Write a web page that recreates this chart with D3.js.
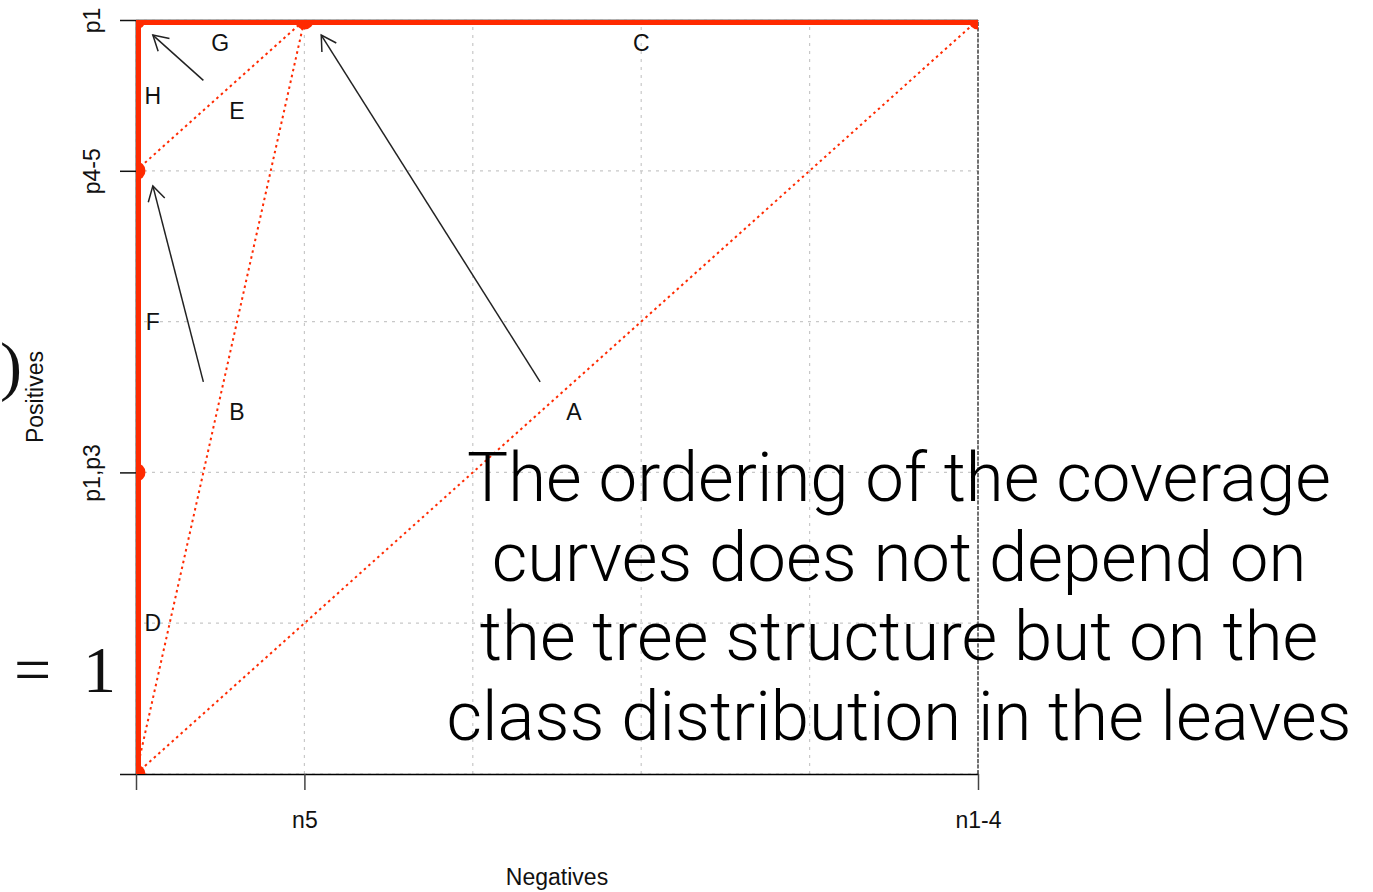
<!DOCTYPE html>
<html>
<head>
<meta charset="utf-8">
<script src="https://cdn.jsdelivr.net/npm/d3@7/dist/d3.min.js"></script>
<style>
  body { margin: 0; background: #fff; }
  text { font-family: "Liberation Sans", Arial, Helvetica, sans-serif; }
  text.serif { font-family: "Liberation Serif", "DejaVu Serif", "Times New Roman", serif; }
  text.slide { font-family: Roboto, "Open Sans", sans-serif; font-weight: 300; }
</style>
</head>
<body>
<svg id="chart" width="1373" height="892"></svg>
<script>
// axis ticks (data units) and their labels
var negTicks = [0, 1, 5];
var negLabels = ["", "n5", "n1-4"];
var posTicks = [0, 2, 4, 5];
var posLabels = ["", "p1,p3", "p4-5", "p1"];
var gridTicks = [0, 1, 2, 3, 4, 5];

// coverage curve (thick red) and its points
var curve = [[0, 0], [0, 5], [5, 5]];
var curvePoints = [[0, 0], [0, 2], [0, 4], [0, 5], [1, 5], [5, 5]];

// dotted red segments
var dotted = [
  [[0, 0], [5, 5]],
  [[0, 0], [1, 5]],
  [[0, 4], [1, 5]]
];

// leaf letters
var letters = [
  { t: "G", x: 0.5, y: 4.85 },
  { t: "C", x: 3.0, y: 4.85 },
  { t: "H", x: 0.1, y: 4.5 },
  { t: "E", x: 0.6, y: 4.4 },
  { t: "F", x: 0.1, y: 3.0 },
  { t: "B", x: 0.6, y: 2.4 },
  { t: "A", x: 2.6, y: 2.4 },
  { t: "D", x: 0.1, y: 1.0 }
];

// arrows: from -> to
var arrows = [
  { from: [0.4, 4.6], to: [0.1, 4.9] },
  { from: [0.4, 2.6], to: [0.1, 3.9] },
  { from: [2.4, 2.6], to: [1.1, 4.9] }
];

var slideLines = [
  "The ordering of the coverage",
  "curves does not depend on",
  "the tree structure but on the",
  "class distribution in the leaves"
];

var red = "#ff2a00";
var svg = d3.select("#chart");
svg.append("rect").attr("width", 1373).attr("height", 892).attr("fill", "#fff");

var x = d3.scaleLinear().domain([0, 5]).range([136, 978]);
var y = d3.scaleLinear().domain([0, 5]).range([774, 20]);

// clip to plot region
svg.append("defs").append("clipPath").attr("id", "plotClip")
  .append("rect")
  .attr("x", x(0)).attr("y", y(5))
  .attr("width", x(5) - x(0)).attr("height", y(0) - y(5));

// grid
var grid = svg.append("g");
grid.selectAll(".gx").data(gridTicks).join("line")
  .attr("x1", d => x(d)).attr("x2", d => x(d))
  .attr("y1", y(0)).attr("y2", y(5))
  .attr("stroke", "#c8c8c8").attr("stroke-width", 1.2)
  .attr("stroke-dasharray", "3,5");
grid.selectAll(".gy").data(gridTicks).join("line")
  .attr("y1", d => y(d)).attr("y2", d => y(d))
  .attr("x1", x(0)).attr("x2", x(5))
  .attr("stroke", "#c8c8c8").attr("stroke-width", 1.2)
  .attr("stroke-dasharray", "3,5");

// frame: top & left grey, right dashed dark
svg.append("line")
  .attr("x1", x(0)).attr("x2", x(5)).attr("y1", y(5)).attr("y2", y(5))
  .attr("stroke", "#999").attr("stroke-width", 1.5);
svg.append("line")
  .attr("x1", x(0)).attr("x2", x(0)).attr("y1", y(0)).attr("y2", y(5))
  .attr("stroke", "#888").attr("stroke-width", 1.5);
svg.append("line")
  .attr("x1", x(5)).attr("x2", x(5)).attr("y1", y(0)).attr("y2", y(5))
  .attr("stroke", "#444").attr("stroke-width", 1.5)
  .attr("stroke-dasharray", "4,1.5");

// axes
var xAxis = svg.append("g")
  .attr("transform", `translate(0,${y(0)})`)
  .call(d3.axisBottom(x).tickValues(negTicks).tickSize(16).tickSizeOuter(0)
    .tickFormat((d, i) => negLabels[i]));
xAxis.select(".domain").attr("stroke", "#000").attr("stroke-width", 1.5);
xAxis.selectAll(".tick line").attr("stroke", "#444").attr("stroke-width", 1.5);
xAxis.selectAll(".tick text")
  .attr("font-size", 23).attr("fill", "#111")
  .attr("dy", null).attr("y", 54);

var yAxis = svg.append("g")
  .attr("transform", `translate(${x(0)},0)`)
  .call(d3.axisLeft(y).tickValues(posTicks).tickSize(16).tickSizeOuter(0)
    .tickFormat((d, i) => posLabels[i]));
yAxis.select(".domain").remove();
yAxis.selectAll(".tick line").attr("stroke", "#111").attr("stroke-width", 1.5);
yAxis.selectAll(".tick text")
  .attr("font-size", 23).attr("fill", "#111")
  .attr("x", null).attr("dy", null)
  .attr("text-anchor", "middle")
  .attr("transform", "translate(-36,0) rotate(-90)");

// axis titles
svg.append("text")
  .attr("x", (x(0) + x(5)) / 2).attr("y", 885)
  .attr("text-anchor", "middle").attr("font-size", 23).attr("fill", "#111")
  .text("Negatives");
svg.append("text")
  .attr("transform", `translate(43,${(y(0) + y(5)) / 2}) rotate(-90)`)
  .attr("text-anchor", "middle").attr("font-size", 23).attr("fill", "#111")
  .text("Positives");

// plotted content, clipped
var plot = svg.append("g").attr("clip-path", "url(#plotClip)");

plot.selectAll(".dotted").data(dotted).join("line")
  .attr("x1", d => x(d[0][0])).attr("y1", d => y(d[0][1]))
  .attr("x2", d => x(d[1][0])).attr("y2", d => y(d[1][1]))
  .attr("stroke", red).attr("stroke-width", 2)
  .attr("stroke-dasharray", "2.5,3.5");

plot.append("path")
  .datum(curve)
  .attr("d", d3.line().x(d => x(d[0])).y(d => y(d[1])))
  .attr("fill", "none").attr("stroke", red).attr("stroke-width", 10)
  .attr("stroke-linejoin", "miter");

plot.selectAll(".pt").data(curvePoints).join("circle")
  .attr("cx", d => x(d[0])).attr("cy", d => y(d[1]))
  .attr("r", 9.5).attr("fill", red);

// letters
svg.selectAll(".leaf").data(letters).join("text")
  .attr("x", d => x(d.x)).attr("y", d => y(d.y))
  .attr("dy", "0.36em").attr("text-anchor", "middle")
  .attr("font-size", 23).attr("fill", "#111")
  .text(d => d.t);

// arrows with open heads
var ag = svg.append("g").attr("stroke", "#222").attr("stroke-width", 1.5).attr("fill", "none");
arrows.forEach(a => {
  var x0 = x(a.from[0]), y0 = y(a.from[1]);
  var x1 = x(a.to[0]), y1 = y(a.to[1]);
  ag.append("line").attr("x1", x0).attr("y1", y0).attr("x2", x1).attr("y2", y1);
  var ang = Math.atan2(y0 - y1, x0 - x1);
  var len = 17, spread = Math.PI / 6;
  ag.append("path").attr("d",
    `M${x1 + len * Math.cos(ang - spread)},${y1 + len * Math.sin(ang - spread)}` +
    `L${x1},${y1}` +
    `L${x1 + len * Math.cos(ang + spread)},${y1 + len * Math.sin(ang + spread)}`);
});

// slide fragments at the far left
svg.append("text").attr("class", "serif").attr("x", 0).attr("y", 388)
  .attr("font-size", 66).attr("fill", "#111").text(")");
svg.append("text").attr("class", "serif").attr("x", 14).attr("y", 692)
  .attr("font-size", 66).attr("fill", "#111").text("=");
svg.append("text").attr("class", "serif").attr("x", 83).attr("y", 692)
  .attr("font-size", 66).attr("fill", "#111").text("1");

// slide overlay text
var slide = svg.append("g");
slide.selectAll("text").data(slideLines).join("text")
  .attr("class", "slide")
  .attr("x", 899).attr("y", (d, i) => 501 + i * 79.5)
  .attr("text-anchor", "middle")
  .attr("font-size", 64).attr("fill", "#000")
  .text(d => d);
// fit first line width to ~864px
var w0 = slide.select("text").node().getComputedTextLength();
var fs = 64 * 864 / w0;
slide.selectAll("text").attr("font-size", fs);
</script>
</body>
</html>
